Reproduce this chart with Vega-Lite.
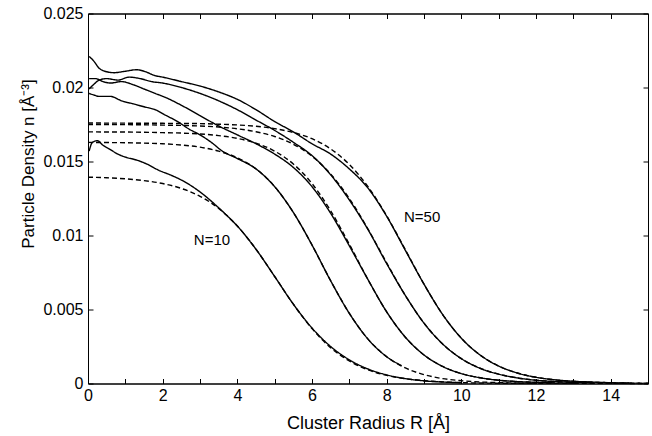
{
  "$schema": "https://vega.github.io/schema/vega-lite/v6.json",
  "width": 560,
  "height": 370,
  "autosize": {"type": "none"},
  "padding": {"left": 88, "top": 13.5, "right": 4, "bottom": 52.5},
  "background": "white",
  "config": {
    "font": "Liberation Sans",
    "view": {"stroke": "black", "strokeWidth": 1},
    "axis": {
      "grid": false,
      "domainColor": "black",
      "domainWidth": 1,
      "tickColor": "black",
      "tickSize": -5,
      "labelColor": "black",
      "labelFontSize": 16,
      "labelPadding": 4,
      "labelFlush": false,
      "labelOverlap": false,
      "titleColor": "black",
      "titleFontSize": 17,
      "titleFontWeight": "normal"
    }
  },
  "datasets": {
    "curves": [
      {"c":1,"k":"fit","R":0,"n":0.01394},{"c":1,"k":"fit","R":0.5,"n":0.0139},{"c":1,"k":"fit","R":1,"n":0.01383},{"c":1,"k":"fit","R":1.5,"n":0.01371},{"c":1,"k":"fit","R":2,"n":0.01351},{"c":1,"k":"fit","R":2.5,"n":0.01318},{"c":1,"k":"fit","R":3,"n":0.01265},{"c":1,"k":"fit","R":3.5,"n":0.01183},{"c":1,"k":"fit","R":4,"n":0.01064},{"c":1,"k":"fit","R":4.5,"n":0.00907},{"c":1,"k":"fit","R":5,"n":0.00723},{"c":1,"k":"fit","R":5.5,"n":0.00536},{"c":1,"k":"fit","R":6,"n":0.00371},{"c":1,"k":"fit","R":6.5,"n":0.00242},{"c":1,"k":"fit","R":7,"n":0.00152},{"c":1,"k":"fit","R":7.5,"n":0.00092},{"c":1,"k":"fit","R":8,"n":0.00055},{"c":1,"k":"fit","R":8.5,"n":0.00033},{"c":1,"k":"fit","R":9,"n":0.00019},{"c":1,"k":"fit","R":9.5,"n":0.00011},{"c":1,"k":"fit","R":10,"n":0.00006},{"c":1,"k":"fit","R":11,"n":0.00002},{"c":1,"k":"fit","R":12,"n":0.00001},

      {"c":2,"k":"fit","R":0,"n":0.01629},{"c":2,"k":"fit","R":0.5,"n":0.01628},{"c":2,"k":"fit","R":1,"n":0.01627},{"c":2,"k":"fit","R":1.5,"n":0.01624},{"c":2,"k":"fit","R":2,"n":0.0162},{"c":2,"k":"fit","R":2.5,"n":0.01611},{"c":2,"k":"fit","R":3,"n":0.01597},{"c":2,"k":"fit","R":3.5,"n":0.0157},{"c":2,"k":"fit","R":4,"n":0.01525},{"c":2,"k":"fit","R":4.5,"n":0.0145},{"c":2,"k":"fit","R":5,"n":0.0133},{"c":2,"k":"fit","R":5.5,"n":0.01156},{"c":2,"k":"fit","R":6,"n":0.00936},{"c":2,"k":"fit","R":6.5,"n":0.00694},{"c":2,"k":"fit","R":7,"n":0.00474},{"c":2,"k":"fit","R":7.5,"n":0.003},{"c":2,"k":"fit","R":8,"n":0.00181},{"c":2,"k":"fit","R":8.5,"n":0.00105},{"c":2,"k":"fit","R":9,"n":0.0006},{"c":2,"k":"fit","R":9.5,"n":0.00033},{"c":2,"k":"fit","R":10,"n":0.00019},{"c":2,"k":"fit","R":10.5,"n":0.0001},{"c":2,"k":"fit","R":11,"n":0.00006},{"c":2,"k":"fit","R":12,"n":0.00002},{"c":2,"k":"fit","R":13,"n":0.00001},

      {"c":3,"k":"fit","R":0,"n":0.017},{"c":3,"k":"fit","R":1,"n":0.01699},{"c":3,"k":"fit","R":2,"n":0.01695},{"c":3,"k":"fit","R":2.5,"n":0.01692},{"c":3,"k":"fit","R":3,"n":0.01686},{"c":3,"k":"fit","R":3.5,"n":0.01675},{"c":3,"k":"fit","R":4,"n":0.01656},{"c":3,"k":"fit","R":4.5,"n":0.01624},{"c":3,"k":"fit","R":5,"n":0.0157},{"c":3,"k":"fit","R":5.5,"n":0.01483},{"c":3,"k":"fit","R":6,"n":0.01351},{"c":3,"k":"fit","R":6.5,"n":0.01167},{"c":3,"k":"fit","R":7,"n":0.00941},{"c":3,"k":"fit","R":7.5,"n":0.00702},{"c":3,"k":"fit","R":8,"n":0.00484},{"c":3,"k":"fit","R":8.5,"n":0.00313},{"c":3,"k":"fit","R":9,"n":0.00193},{"c":3,"k":"fit","R":9.5,"n":0.00115},{"c":3,"k":"fit","R":10,"n":0.00067},{"c":3,"k":"fit","R":10.5,"n":0.00039},{"c":3,"k":"fit","R":11,"n":0.00022},{"c":3,"k":"fit","R":11.5,"n":0.00013},{"c":3,"k":"fit","R":12,"n":0.00007},{"c":3,"k":"fit","R":13,"n":0.00002},{"c":3,"k":"fit","R":14,"n":0.00001},{"c":3,"k":"fit","R":15,"n":0},

      {"c":4,"k":"fit","R":0,"n":0.0175},{"c":4,"k":"fit","R":1,"n":0.01749},{"c":4,"k":"fit","R":2,"n":0.01746},{"c":4,"k":"fit","R":3,"n":0.0174},{"c":4,"k":"fit","R":3.5,"n":0.01733},{"c":4,"k":"fit","R":4,"n":0.01721},{"c":4,"k":"fit","R":4.5,"n":0.01701},{"c":4,"k":"fit","R":5,"n":0.01669},{"c":4,"k":"fit","R":5.5,"n":0.01617},{"c":4,"k":"fit","R":6,"n":0.01536},{"c":4,"k":"fit","R":6.5,"n":0.01415},{"c":4,"k":"fit","R":7,"n":0.0125},{"c":4,"k":"fit","R":7.5,"n":0.01043},{"c":4,"k":"fit","R":8,"n":0.00815},{"c":4,"k":"fit","R":8.5,"n":0.00595},{"c":4,"k":"fit","R":9,"n":0.00408},{"c":4,"k":"fit","R":9.5,"n":0.00267},{"c":4,"k":"fit","R":10,"n":0.00168},{"c":4,"k":"fit","R":10.5,"n":0.00103},{"c":4,"k":"fit","R":11,"n":0.00063},{"c":4,"k":"fit","R":11.5,"n":0.00038},{"c":4,"k":"fit","R":12,"n":0.00022},{"c":4,"k":"fit","R":12.5,"n":0.00013},{"c":4,"k":"fit","R":13,"n":0.00008},{"c":4,"k":"fit","R":14,"n":0.00003},{"c":4,"k":"fit","R":15,"n":0.00001},

      {"c":5,"k":"fit","R":0,"n":0.0176},{"c":5,"k":"fit","R":1,"n":0.01759},{"c":5,"k":"fit","R":2,"n":0.01758},{"c":5,"k":"fit","R":3,"n":0.01756},{"c":5,"k":"fit","R":3.5,"n":0.01752},{"c":5,"k":"fit","R":4,"n":0.01747},{"c":5,"k":"fit","R":4.5,"n":0.01738},{"c":5,"k":"fit","R":5,"n":0.01722},{"c":5,"k":"fit","R":5.5,"n":0.01696},{"c":5,"k":"fit","R":6,"n":0.01654},{"c":5,"k":"fit","R":6.5,"n":0.01585},{"c":5,"k":"fit","R":7,"n":0.0148},{"c":5,"k":"fit","R":7.5,"n":0.0133},{"c":5,"k":"fit","R":8,"n":0.01133},{"c":5,"k":"fit","R":8.5,"n":0.00904},{"c":5,"k":"fit","R":9,"n":0.00671},{"c":5,"k":"fit","R":9.5,"n":0.00466},{"c":5,"k":"fit","R":10,"n":0.00306},{"c":5,"k":"fit","R":10.5,"n":0.00193},{"c":5,"k":"fit","R":11,"n":0.00118},{"c":5,"k":"fit","R":11.5,"n":0.00071},{"c":5,"k":"fit","R":12,"n":0.00042},{"c":5,"k":"fit","R":12.5,"n":0.00025},{"c":5,"k":"fit","R":13,"n":0.00015},{"c":5,"k":"fit","R":14,"n":0.00005},{"c":5,"k":"fit","R":15,"n":0.00002},

      {"c":1,"k":"sim","R":0.03,"n":0.0157},{"c":1,"k":"sim","R":0.12,"n":0.0163},{"c":1,"k":"sim","R":0.25,"n":0.0164},{"c":1,"k":"sim","R":0.4,"n":0.0161},{"c":1,"k":"sim","R":0.6,"n":0.0158},{"c":1,"k":"sim","R":0.8,"n":0.0155},{"c":1,"k":"sim","R":1.0,"n":0.0153},{"c":1,"k":"sim","R":1.3,"n":0.0151},{"c":1,"k":"sim","R":1.6,"n":0.0148},{"c":1,"k":"sim","R":1.9,"n":0.0144},{"c":1,"k":"sim","R":2.2,"n":0.0141},{"c":1,"k":"sim","R":2.5,"n":0.01375},{"c":1,"k":"sim","R":2.8,"n":0.0133},{"c":1,"k":"sim","R":3.1,"n":0.01275},{"c":1,"k":"sim","R":3.4,"n":0.0121},{"c":1,"k":"sim","R":3.7,"n":0.0114},{"c":1,"k":"sim","R":4,"n":0.01064},{"c":1,"k":"sim","R":4.5,"n":0.00907},{"c":1,"k":"sim","R":5,"n":0.00723},{"c":1,"k":"sim","R":5.5,"n":0.00536},{"c":1,"k":"sim","R":6,"n":0.00375},{"c":1,"k":"sim","R":6.5,"n":0.0025},{"c":1,"k":"sim","R":7,"n":0.0016},{"c":1,"k":"sim","R":7.5,"n":0.00098},{"c":1,"k":"sim","R":8,"n":0.00058},{"c":1,"k":"sim","R":8.5,"n":0.00033},{"c":1,"k":"sim","R":9,"n":0.00018},{"c":1,"k":"sim","R":9.5,"n":0.0001},{"c":1,"k":"sim","R":10,"n":0.00005},

      {"c":2,"k":"sim","R":0.03,"n":0.0196},{"c":2,"k":"sim","R":0.15,"n":0.0195},{"c":2,"k":"sim","R":0.3,"n":0.0194},{"c":2,"k":"sim","R":0.6,"n":0.0194},{"c":2,"k":"sim","R":0.9,"n":0.0191},{"c":2,"k":"sim","R":1.2,"n":0.0189},{"c":2,"k":"sim","R":1.5,"n":0.0187},{"c":2,"k":"sim","R":1.8,"n":0.0185},{"c":2,"k":"sim","R":2.1,"n":0.0181},{"c":2,"k":"sim","R":2.4,"n":0.0177},{"c":2,"k":"sim","R":2.7,"n":0.0172},{"c":2,"k":"sim","R":3.0,"n":0.0168},{"c":2,"k":"sim","R":3.3,"n":0.0163},{"c":2,"k":"sim","R":3.6,"n":0.0157},{"c":2,"k":"sim","R":4,"n":0.0152},{"c":2,"k":"sim","R":4.5,"n":0.0145},{"c":2,"k":"sim","R":5,"n":0.0133},{"c":2,"k":"sim","R":5.5,"n":0.01156},{"c":2,"k":"sim","R":6,"n":0.00936},{"c":2,"k":"sim","R":6.5,"n":0.00694},{"c":2,"k":"sim","R":7,"n":0.00474},{"c":2,"k":"sim","R":7.5,"n":0.003},{"c":2,"k":"sim","R":8,"n":0.00181},{"c":2,"k":"sim","R":8.4,"n":0.0012},

      {"c":3,"k":"sim","R":0.03,"n":0.0206},{"c":3,"k":"sim","R":0.2,"n":0.0206},{"c":3,"k":"sim","R":0.4,"n":0.0204},{"c":3,"k":"sim","R":0.6,"n":0.0203},{"c":3,"k":"sim","R":0.9,"n":0.0204},{"c":3,"k":"sim","R":1.2,"n":0.0202},{"c":3,"k":"sim","R":1.5,"n":0.0199},{"c":3,"k":"sim","R":1.8,"n":0.0196},{"c":3,"k":"sim","R":2.1,"n":0.0193},{"c":3,"k":"sim","R":2.5,"n":0.0188},{"c":3,"k":"sim","R":3,"n":0.0181},{"c":3,"k":"sim","R":3.5,"n":0.0174},{"c":3,"k":"sim","R":4,"n":0.0168},{"c":3,"k":"sim","R":4.5,"n":0.0162},{"c":3,"k":"sim","R":5,"n":0.0155},{"c":3,"k":"sim","R":5.5,"n":0.0146},{"c":3,"k":"sim","R":6,"n":0.0133},{"c":3,"k":"sim","R":6.5,"n":0.0115},{"c":3,"k":"sim","R":7,"n":0.0093},{"c":3,"k":"sim","R":7.5,"n":0.00702},{"c":3,"k":"sim","R":8,"n":0.00484},{"c":3,"k":"sim","R":8.5,"n":0.00313},{"c":3,"k":"sim","R":9,"n":0.00193},{"c":3,"k":"sim","R":9.5,"n":0.00115},{"c":3,"k":"sim","R":10,"n":0.00067},{"c":3,"k":"sim","R":10.5,"n":0.00039},{"c":3,"k":"sim","R":11,"n":0.00022},{"c":3,"k":"sim","R":11.5,"n":0.00013},{"c":3,"k":"sim","R":12,"n":0.00008},{"c":3,"k":"sim","R":12.5,"n":0.00004},

      {"c":4,"k":"sim","R":0.03,"n":0.0199},{"c":4,"k":"sim","R":0.15,"n":0.0202},{"c":4,"k":"sim","R":0.3,"n":0.0205},{"c":4,"k":"sim","R":0.5,"n":0.0206},{"c":4,"k":"sim","R":0.8,"n":0.0205},{"c":4,"k":"sim","R":1.1,"n":0.0207},{"c":4,"k":"sim","R":1.4,"n":0.0206},{"c":4,"k":"sim","R":1.7,"n":0.0204},{"c":4,"k":"sim","R":2,"n":0.0203},{"c":4,"k":"sim","R":2.5,"n":0.02},{"c":4,"k":"sim","R":3,"n":0.0196},{"c":4,"k":"sim","R":3.5,"n":0.0191},{"c":4,"k":"sim","R":4,"n":0.0185},{"c":4,"k":"sim","R":4.5,"n":0.0178},{"c":4,"k":"sim","R":5,"n":0.0171},{"c":4,"k":"sim","R":5.5,"n":0.0163},{"c":4,"k":"sim","R":6,"n":0.0154},{"c":4,"k":"sim","R":6.5,"n":0.0141},{"c":4,"k":"sim","R":7,"n":0.0124},{"c":4,"k":"sim","R":7.5,"n":0.0104},{"c":4,"k":"sim","R":8,"n":0.0081},{"c":4,"k":"sim","R":8.5,"n":0.00595},{"c":4,"k":"sim","R":9,"n":0.00408},{"c":4,"k":"sim","R":9.5,"n":0.00267},{"c":4,"k":"sim","R":10,"n":0.00168},{"c":4,"k":"sim","R":10.5,"n":0.00103},{"c":4,"k":"sim","R":11,"n":0.00063},{"c":4,"k":"sim","R":11.5,"n":0.00038},{"c":4,"k":"sim","R":12,"n":0.00022},{"c":4,"k":"sim","R":12.5,"n":0.00013},{"c":4,"k":"sim","R":13,"n":0.00008},{"c":4,"k":"sim","R":13.5,"n":0.00005},

      {"c":5,"k":"sim","R":0.03,"n":0.0221},{"c":5,"k":"sim","R":0.15,"n":0.0218},{"c":5,"k":"sim","R":0.3,"n":0.0213},{"c":5,"k":"sim","R":0.45,"n":0.0211},{"c":5,"k":"sim","R":0.7,"n":0.021},{"c":5,"k":"sim","R":1,"n":0.0211},{"c":5,"k":"sim","R":1.3,"n":0.0212},{"c":5,"k":"sim","R":1.5,"n":0.0211},{"c":5,"k":"sim","R":1.8,"n":0.0208},{"c":5,"k":"sim","R":2,"n":0.0207},{"c":5,"k":"sim","R":2.5,"n":0.0204},{"c":5,"k":"sim","R":3,"n":0.0201},{"c":5,"k":"sim","R":3.5,"n":0.0197},{"c":5,"k":"sim","R":4,"n":0.0192},{"c":5,"k":"sim","R":4.5,"n":0.0185},{"c":5,"k":"sim","R":5,"n":0.0177},{"c":5,"k":"sim","R":5.5,"n":0.017},{"c":5,"k":"sim","R":6,"n":0.0162},{"c":5,"k":"sim","R":6.5,"n":0.0155},{"c":5,"k":"sim","R":7,"n":0.0145},{"c":5,"k":"sim","R":7.5,"n":0.0132},{"c":5,"k":"sim","R":8,"n":0.0113},{"c":5,"k":"sim","R":8.5,"n":0.009},{"c":5,"k":"sim","R":9,"n":0.00671},{"c":5,"k":"sim","R":9.5,"n":0.00466},{"c":5,"k":"sim","R":10,"n":0.00306},{"c":5,"k":"sim","R":10.5,"n":0.00193},{"c":5,"k":"sim","R":11,"n":0.00118},{"c":5,"k":"sim","R":11.5,"n":0.00071},{"c":5,"k":"sim","R":12,"n":0.00042},{"c":5,"k":"sim","R":12.5,"n":0.00025},{"c":5,"k":"sim","R":13,"n":0.00015},{"c":5,"k":"sim","R":13.5,"n":0.0001},{"c":5,"k":"sim","R":14,"n":0.00005},{"c":5,"k":"sim","R":14.5,"n":0.00003}
    ],
    "labels": [
      {"R": 3.32, "n": 0.0097, "t": "N=10"},
      {"R": 8.95, "n": 0.01127, "t": "N=50"}
    ]
  },
  "layer": [
    {
      "data": {"name": "curves"},
      "mark": {"type": "line", "interpolate": "monotone", "strokeWidth": 1.4, "color": "black"},
      "encoding": {
        "x": {
          "field": "R", "type": "quantitative",
          "scale": {"domain": [0, 15], "nice": false},
          "axis": {
            "orient": "bottom",
            "title": "Cluster Radius R [Å]",
            "titleFontSize": 18,
            "titlePadding": 11,
            "labelPadding": 9,
            "values": [0,1,2,3,4,5,6,7,8,9,10,11,12,13,14,15],
            "labelExpr": "datum.value % 2 === 0 ? datum.label : ''"
          }
        },
        "y": {
          "field": "n", "type": "quantitative",
          "scale": {"domain": [0, 0.025], "nice": false},
          "axis": {
            "orient": "left",
            "title": "Particle Density n [Å⁻³]",
            "titlePadding": 5,
            "titleY": 150,
            "labelPadding": 10,
            "values": [0, 0.005, 0.01, 0.015, 0.02, 0.025],
            "format": ".3~f"
          }
        },
        "detail": [{"field": "c", "type": "nominal"}, {"field": "k", "type": "nominal"}],
        "strokeDash": {
          "field": "k", "type": "nominal",
          "scale": {"domain": ["sim", "fit"], "range": [[1, 0], [5, 3]]},
          "legend": null
        }
      }
    },
    {
      "data": {"name": "labels"},
      "mark": {"type": "text", "fontSize": 15, "color": "black", "font": "Liberation Sans"},
      "encoding": {
        "x": {
          "field": "R", "type": "quantitative",
          "scale": {"domain": [0, 15], "nice": false},
          "axis": {"orient": "top", "labels": false, "title": null, "values": [0,1,2,3,4,5,6,7,8,9,10,11,12,13,14,15]}
        },
        "y": {
          "field": "n", "type": "quantitative",
          "scale": {"domain": [0, 0.025], "nice": false},
          "axis": {"orient": "right", "labels": false, "title": null, "values": [0, 0.005, 0.01, 0.015, 0.02, 0.025]}
        },
        "text": {"field": "t"}
      }
    }
  ],
  "resolve": {"axis": {"x": "independent", "y": "independent"}}
}
